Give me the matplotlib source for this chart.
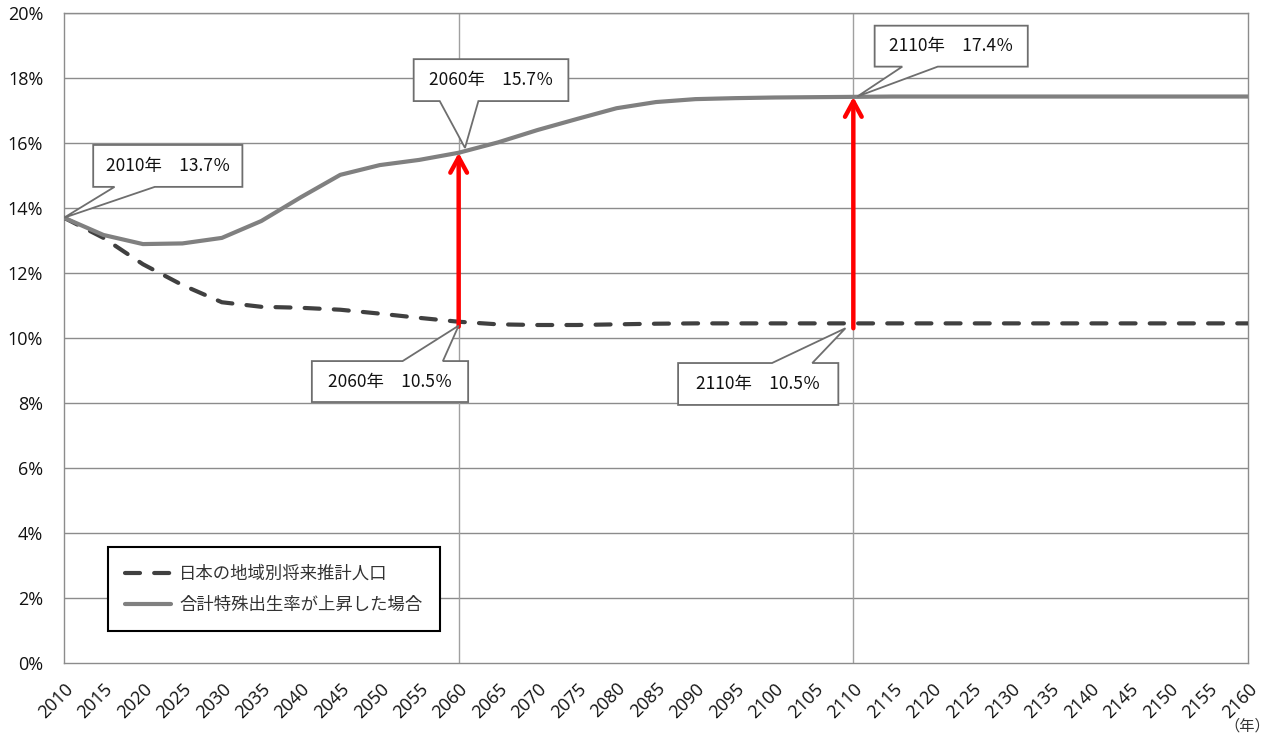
import matplotlib
matplotlib.use("Agg")
import matplotlib.pyplot as plt
from matplotlib.patches import Polygon
from matplotlib.lines import Line2D

plt.rcParams['font.family'] = ['Noto Sans CJK JP', 'DejaVu Sans']

years = list(range(2010, 2165, 5))
base_rate = [13.7, 13.08, 12.27, 11.63, 11.1, 10.96, 10.93, 10.87, 10.75, 10.62, 10.5,
             10.42, 10.4, 10.4, 10.42, 10.44, 10.45, 10.45, 10.45, 10.45, 10.45,
             10.45, 10.45, 10.45, 10.45, 10.45, 10.45, 10.45, 10.45, 10.45, 10.45]
high_rate = [13.7, 13.17, 12.89, 12.91, 13.08, 13.6, 14.33, 15.02, 15.32, 15.48, 15.7,
             16.02, 16.4, 16.74, 17.07, 17.26, 17.35, 17.38, 17.4, 17.41, 17.42,
             17.43, 17.43, 17.43, 17.43, 17.43, 17.43, 17.43, 17.43, 17.43, 17.43]
series_labels = ['日本の地域別将来推計人口', '合計特殊出生率が上昇した場合']
marker_years = [2060, 2110]
callouts = [
    # (text, tip_x, tip_y, box x0, x1, y0, y1, base b1, b2, edge)
    ('2010年　13.7％', 2010, 13.7, 2013.7, 2032.6, 14.65, 15.94, 2016.4, 2021.5, 'bottom'),
    ('2060年　15.7％', 2060.8, 15.85, 2054.3, 2073.9, 17.29, 18.58, 2057.6, 2062.5, 'bottom'),
    ('2110年　17.4％', 2110.5, 17.43, 2112.7, 2132.1, 18.35, 19.61, 2116.2, 2120.7, 'bottom'),
    ('2060年　10.5％', 2060, 10.38, 2041.4, 2061.2, 8.03, 9.29, 2052.9, 2058.0, 'top'),
    ('2110年　10.5％', 2109, 10.3, 2087.8, 2108.1, 7.94, 9.23, 2099.7, 2104.8, 'top'),
]

fig = plt.figure(figsize=(12.71, 7.38), dpi=100)
ax = fig.add_axes([64/1271, 75/738, 1184/1271, 650/738])
ax.set_xlim(2010, 2160)
ax.set_ylim(0, 20)

grid_c = '#8c8c8c'
ax.set_yticks(range(0, 21, 2))
ax.set_yticklabels([f'{v}%' for v in range(0, 21, 2)], fontsize=13,
                   family=['Open Sans', 'DejaVu Sans'], color='#111111')
ax.set_xticks(years)
ax.set_xticklabels([str(y) for y in years], rotation=45, ha='right', va='top',
                   rotation_mode='anchor', fontsize=13,
                   family=['Open Sans', 'DejaVu Sans'], color='#111111')
ax.tick_params(length=0)
ax.tick_params(axis='y', pad=15)
ax.tick_params(axis='x', pad=12)
for v in range(2, 21, 2):
    ax.axhline(v, color=grid_c, lw=1, zorder=1)
for s in ax.spines.values():
    s.set_color(grid_c)
    s.set_linewidth(1)
for my in marker_years:
    ax.axvline(my, color='#a0a0a0', lw=1, zorder=1)

l1, = ax.plot(years, base_rate, color='#404040', lw=3, dashes=(3.6, 3.4),
              dash_capstyle='round', zorder=3, label=series_labels[0])
l2, = ax.plot(years, high_rate, color='#808080', lw=3, solid_capstyle='round',
              zorder=3, label=series_labels[1])

for my in marker_years:
    i = years.index(my)
    ax.annotate('', xy=(my, high_rate[i]), xytext=(my, base_rate[i] - 0.15),
                arrowprops=dict(arrowstyle='->,head_length=0.55,head_width=0.3',
                                color='#ff0000', lw=3.2, shrinkA=0, shrinkB=0,
                                mutation_scale=20),
                zorder=4)

for (txt, tx, ty, x0, x1, y0, y1, b1, b2, edge) in callouts:
    if edge == 'bottom':
        verts = [(x0, y1), (x1, y1), (x1, y0), (b2, y0), (tx, ty), (b1, y0), (x0, y0)]
    else:
        verts = [(x0, y0), (x1, y0), (x1, y1), (b2, y1), (tx, ty), (b1, y1), (x0, y1)]
    ax.add_patch(Polygon(verts, closed=True, facecolor='white', edgecolor='#6e6e6e',
                         lw=1.3, zorder=5))
    ax.text((x0 + x1) / 2, (y0 + y1) / 2, txt, ha='center', va='center',
            fontsize=12.5, color='#111111', zorder=6)

leg = ax.legend(handles=[l1, l2], loc='lower left', bbox_to_anchor=(0.0372, 0.049),
                fontsize=12.5, frameon=True, fancybox=False, framealpha=1,
                edgecolor='black', handlelength=2.6, handletextpad=0.5,
                labelspacing=0.75, borderpad=1.0, borderaxespad=0)
leg.get_frame().set_linewidth(1.5)
for t in leg.get_texts():
    t.set_color('#333333')

fig.text(1247/1271, 1 - 726/738, '（年）', ha='center', va='center', fontsize=11,
         color='#333333')

fig.savefig('out.png', dpi=100)
